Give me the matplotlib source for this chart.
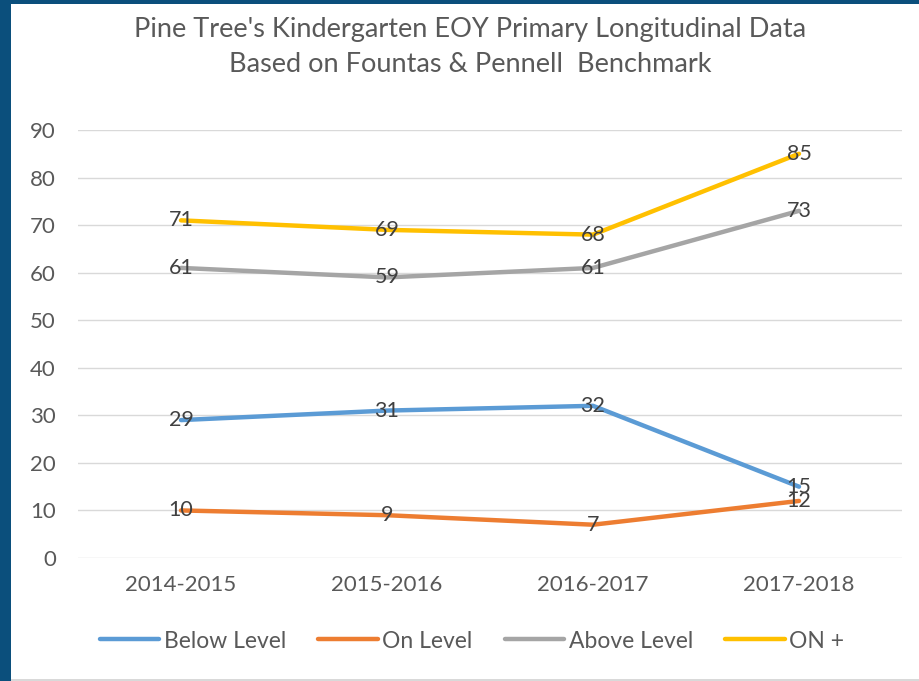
import matplotlib
matplotlib.use("Agg")
import matplotlib.pyplot as plt
from matplotlib.patches import Rectangle

plt.rcParams['font.family'] = ['Lato', 'DejaVu Sans']

years = ["2014-2015", "2015-2016", "2016-2017", "2017-2018"]
below_level = [29, 31, 32, 15]
on_level = [10, 9, 7, 12]
above_level = [61, 59, 61, 73]
on_plus = [71, 69, 68, 85]

series = [
    ("Below Level", below_level, "#5B9BD5"),
    ("On Level", on_level, "#ED7D31"),
    ("Above Level", above_level, "#A5A5A5"),
    ("ON +", on_plus, "#FFC000"),
]

W, H = 920, 681
fig = plt.figure(figsize=(W / 100, H / 100), dpi=100)
fig.patch.set_facecolor("white")

# border
fig.patches.append(Rectangle((0, 0), 11 / W, 1, transform=fig.transFigure,
                             facecolor="#0B4F7C", edgecolor="none", zorder=0))
fig.patches.append(Rectangle((0, 1 - 4 / H), 1, 4 / H, transform=fig.transFigure,
                             facecolor="#0B4F7C", edgecolor="none", zorder=0))
fig.patches.append(Rectangle((11 / W, 0), 1, 2 / H, transform=fig.transFigure,
                             facecolor="#D9D9D9", edgecolor="none", zorder=0))

ax = fig.add_axes([78 / W, 123 / H, 824 / W, 428 / H])
x = list(range(len(years)))
for name, vals, col in series:
    ax.plot(x, vals, color=col, lw=3.2, label=name, solid_capstyle="round", zorder=3)
    for xi, v in zip(x, vals):
        ax.text(xi, v, str(v), ha="center", va="center", fontsize=15.5,
                color="#404040", zorder=4)

ax.set_xlim(-0.5, len(years) - 0.5)
ax.set_ylim(0, 90)
ax.set_yticks(range(0, 91, 10))
ax.set_xticks(x)
ax.set_xticklabels(years)
ax.grid(axis="y", color="#D9D9D9", lw=1)
ax.set_axisbelow(True)
for s in ax.spines.values():
    s.set_visible(False)
ax.tick_params(axis="both", length=0, labelsize=16, labelcolor="#595959")
ax.tick_params(axis="y", pad=16)
ax.tick_params(axis="x", pad=12)

fig.text(470 / W, 1 - 29 / H, "Pine Tree's Kindergarten EOY Primary Longitudinal Data",
         ha="center", va="center", fontsize=19.5, color="#595959")
fig.text(470 / W, 1 - 64 / H, "Based on Fountas & Pennell  Benchmark",
         ha="center", va="center", fontsize=19.5, color="#595959")

fig.legend(loc="center", bbox_to_anchor=(472 / W, 1 - 641 / H), ncol=4,
           frameon=False, fontsize=16.5, handlelength=2.6, handletextpad=0.2,
           columnspacing=1.4, labelcolor="#595959")

fig.savefig("out.png", dpi=100, facecolor="white")
